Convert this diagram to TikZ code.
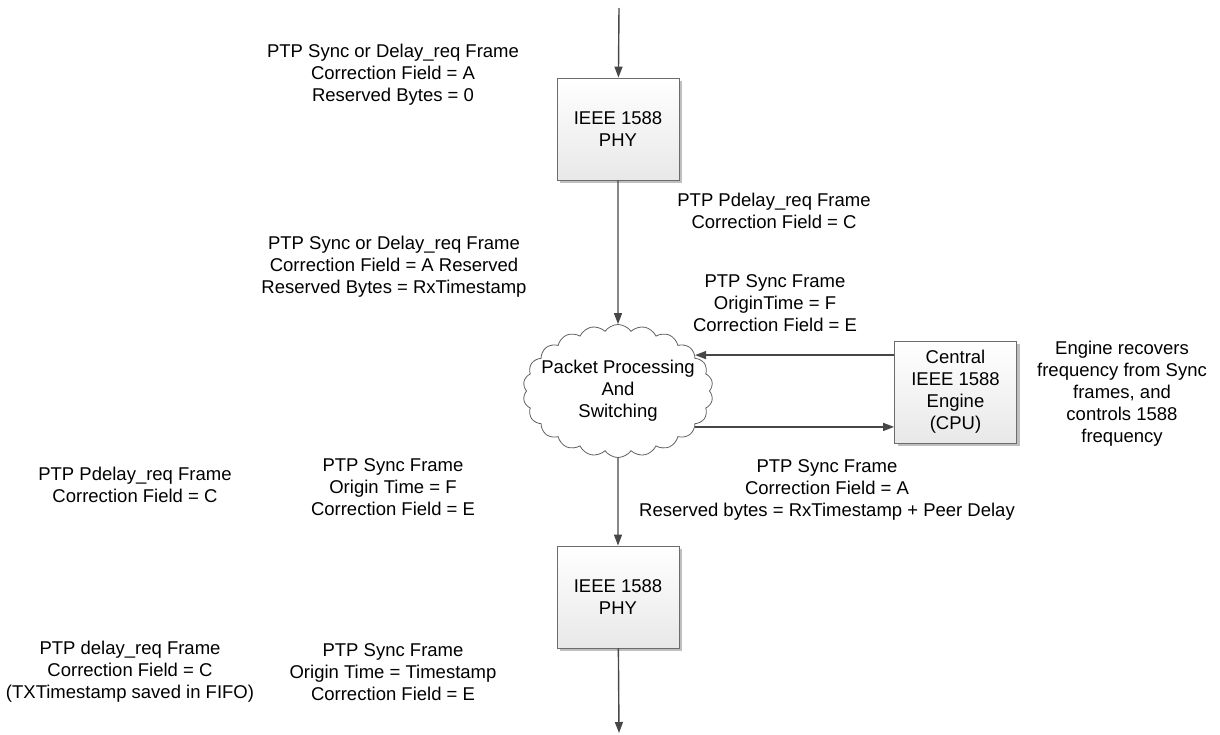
\documentclass[tikz,border=0pt]{standalone}
\usepackage{fontspec}
\setmainfont{Liberation Sans}
\usetikzlibrary{arrows.meta, shapes.symbols, shadows}

\begin{document}
\begin{tikzpicture}[x=1pt, y=-1pt,
  every node/.style={font=\fontsize{18.5}{22}\selectfont, align=center, inner sep=0pt},
  blk/.style={draw=gray!85!black, line width=0.8pt, top color=white, bottom color=gray!18, minimum width=122pt, minimum height=102pt, drop shadow={shadow xshift=3pt, shadow yshift=-3pt, fill=gray!50, opacity=1}},
  cld/.style={cloud, draw=gray!75!black, line width=0.8pt, cloud puffs=22, cloud puff arc=110, aspect=1.43, minimum width=190pt, minimum height=133pt},
  wire/.style={draw=black!72, line width=1.4pt, -{Triangle[length=11pt, width=8pt]}}]
  \useasboundingbox (0,0) rectangle (1220,734);
  \coordinate (in) at (619,8);
  \coordinate (out) at (619,733);
  \node[blk] (phy1) at (618,129) {IEEE 1588\\PHY};
  \node[cld] (pps) at (618,391) {};
  \node (ppt) at (pps.center) {Packet Processing\\And\\Switching};
  \node[blk] (cpu) at (955.5,392) {Central\\IEEE 1588\\Engine\\(CPU)};
  \node[blk] (phy2) at (618,597) {IEEE 1588\\PHY};
  \draw[wire] (in) -- (phy1);
  \draw[wire] (phy1) -- (pps);
  \draw[wire] (cpu.west |- pps.25) -- (pps.25);
  \draw[wire] (pps.-25) -- (cpu.west |- pps.-25);
  \draw[wire] (pps) -- (phy2);
  \draw[wire] (phy2) -- (out);
  \node (rxa) at (393,75) {PTP Sync or Delay\_req Frame\\Correction Field = A\\Reserved Bytes = 0};
  \node (pdc) at (774,211) {PTP Pdelay\_req Frame\\Correction Field = C};
  \node (rxb) at (394,267) {PTP Sync or Delay\_req Frame\\Correction Field = A Reserved\\Reserved Bytes = RxTimestamp};
  \node (syf) at (775,303) {PTP Sync Frame\\OriginTime = F\\Correction Field = E};
  \node (eng) at (1122,394) {Engine recovers\\frequency from Sync\\frames, and\\controls 1588\\frequency};
  \node (pdl) at (135,485) {PTP Pdelay\_req Frame\\Correction Field = C};
  \node (syo) at (393,487) {PTP Sync Frame\\Origin Time = F\\Correction Field = E};
  \node (syr) at (827,490) {PTP Sync Frame\\Correction Field = A\\Reserved bytes = RxTimestamp + Peer Delay};
  \node (dlq) at (130,672) {PTP delay\_req Frame\\Correction Field = C\\(TXTimestamp saved in FIFO)};
  \node (sts) at (393,672) {PTP Sync Frame\\Origin Time = Timestamp\\Correction Field = E};
\end{tikzpicture}
\end{document}
